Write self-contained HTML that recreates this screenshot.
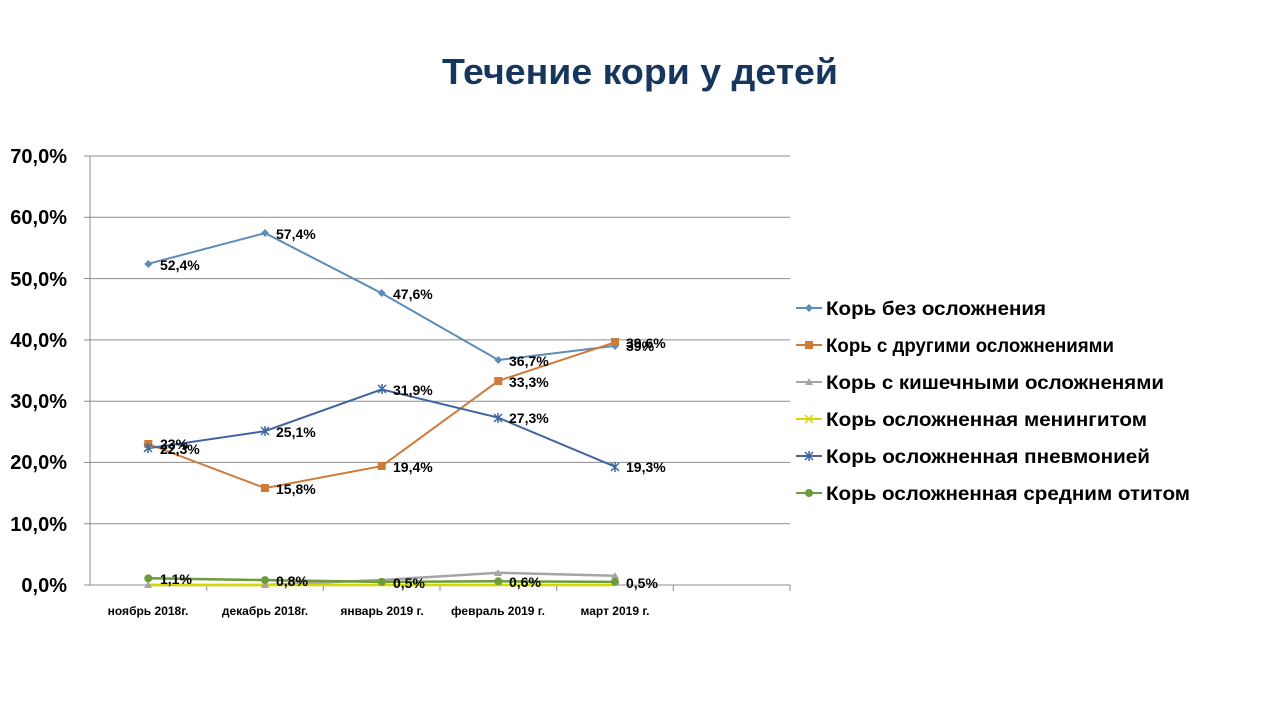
<!DOCTYPE html>
<html><head><meta charset="utf-8"><style>
body{margin:0;width:1280px;height:720px;background:#fff;overflow:hidden}
svg text{font-family:"Liberation Sans",sans-serif}
</style></head><body>
<svg width="1280" height="720" xmlns="http://www.w3.org/2000/svg">
<text x="640" y="84" text-anchor="middle" font-size="36" font-weight="bold" fill="#17365d" textLength="396" lengthAdjust="spacingAndGlyphs">Течение кори у детей</text>
<g stroke="#8c8c8c" stroke-width="1">
<line x1="90" y1="156" x2="790" y2="156"/><line x1="90" y1="217.3" x2="790" y2="217.3"/>
<line x1="90" y1="278.6" x2="790" y2="278.6"/><line x1="90" y1="339.9" x2="790" y2="339.9"/>
<line x1="90" y1="401.2" x2="790" y2="401.2"/><line x1="90" y1="462.4" x2="790" y2="462.4"/>
<line x1="90" y1="523.7" x2="790" y2="523.7"/>
<line x1="90" y1="156" x2="90" y2="585"/>
<line x1="84" y1="585" x2="790" y2="585"/>
<line x1="84" y1="156" x2="90" y2="156"/><line x1="84" y1="217.3" x2="90" y2="217.3"/><line x1="84" y1="278.6" x2="90" y2="278.6"/><line x1="84" y1="339.9" x2="90" y2="339.9"/><line x1="84" y1="401.2" x2="90" y2="401.2"/><line x1="84" y1="462.4" x2="90" y2="462.4"/><line x1="84" y1="523.7" x2="90" y2="523.7"/>
<line x1="206.7" y1="585" x2="206.7" y2="591"/><line x1="323.3" y1="585" x2="323.3" y2="591"/><line x1="440" y1="585" x2="440" y2="591"/><line x1="556.7" y1="585" x2="556.7" y2="591"/><line x1="673.3" y1="585" x2="673.3" y2="591"/><line x1="790" y1="585" x2="790" y2="591"/>
</g>
<g font-size="20" text-anchor="end" fill="#000" font-weight="bold">
<text x="67" y="163">70,0%</text><text x="67" y="224">60,0%</text><text x="67" y="286">50,0%</text><text x="67" y="347">40,0%</text><text x="67" y="408">30,0%</text><text x="67" y="469">20,0%</text><text x="67" y="531">10,0%</text><text x="67" y="592">0,0%</text>
</g>
<g font-size="12" font-weight="bold" text-anchor="middle">
<text x="148" y="615">ноябрь 2018г.</text><text x="265" y="615">декабрь 2018г.</text><text x="382" y="615">январь 2019 г.</text><text x="498" y="615">февраль 2019 г.</text><text x="615" y="615">март 2019 г.</text>
</g>
<polyline fill="none" stroke="#a5a5a5" stroke-width="2.5" points="148.3,585 265,585 381.7,580 498.3,572.7 615,575.8"/>
<polyline fill="none" stroke="#d6d600" stroke-width="2.5" points="148.3,585 265,585 381.7,585 498.3,585 615,585"/>
<polyline fill="none" stroke="#6d9b3a" stroke-width="2.5" points="148.3,578.3 265,580.1 381.7,581.9 498.3,581.3 615,581.9"/>
<polyline fill="none" stroke="#5b8db8" stroke-width="2" points="148.3,263.8 265,233.1 381.7,293.2 498.3,360 615,345.9"/>
<polyline fill="none" stroke="#d07a3a" stroke-width="2" points="148.3,444 265,488.1 381.7,466.1 498.3,380.9 615,342.3"/>
<polyline fill="none" stroke="#3f66a0" stroke-width="2" points="148.3,448.3 265,431.1 381.7,389.4 498.3,417.7 615,466.7"/>
<g fill="#5b8db8"><path d="M148.3,260 l4,4 -4,4 -4,-4z"/><path d="M265,229 l4,4 -4,4 -4,-4z"/><path d="M381.7,289 l4,4 -4,4 -4,-4z"/><path d="M498.3,356 l4,4 -4,4 -4,-4z"/><path d="M615,342 l4,4 -4,4 -4,-4z"/></g>
<g fill="#d07a3a"><rect x="144.3" y="440" width="8" height="8"/><rect x="261" y="484" width="8" height="8"/><rect x="377.7" y="462" width="8" height="8"/><rect x="494.3" y="377" width="8" height="8"/><rect x="611" y="338" width="8" height="8"/></g>
<g stroke="#3f66a0" stroke-width="1.5"><path d="M144,444 l8,8 M152,444 l-8,8 M148,443 v10"/><path d="M261,427 l8,8 M269,427 l-8,8 M265,426 v10"/><path d="M378,385 l8,8 M386,385 l-8,8 M382,384 v10"/><path d="M494,414 l8,8 M502,414 l-8,8 M498,413 v10"/><path d="M611,463 l8,8 M619,463 l-8,8 M615,462 v10"/></g>
<g fill="#a5a5a5"><path d="M148,581 l4,7 h-8z"/><path d="M265,581 l4,7 h-8z"/><path d="M498,569 l4,7 h-8z"/><path d="M615,572 l4,7 h-8z"/></g>
<g fill="#6d9b3a"><circle cx="148.3" cy="578.3" r="4"/><circle cx="265" cy="580.1" r="4"/><circle cx="381.7" cy="581.9" r="4"/><circle cx="498.3" cy="581.3" r="4"/><circle cx="615" cy="581.9" r="4"/></g>
<g font-size="14" font-weight="bold" fill="#000">
<text x="160" y="270">52,4%</text><text x="276" y="239">57,4%</text><text x="393" y="299">47,6%</text><text x="509" y="366">36,7%</text><text x="626" y="351">39%</text>
<text x="160" y="449">23%</text><text x="276" y="494">15,8%</text><text x="393" y="472">19,4%</text><text x="509" y="387">33,3%</text><text x="626" y="348">39,6%</text>
<text x="160" y="454">22,3%</text><text x="276" y="437">25,1%</text><text x="393" y="395">31,9%</text><text x="509" y="423">27,3%</text><text x="626" y="472">19,3%</text>
<text x="160" y="584">1,1%</text><text x="276" y="586">0,8%</text><text x="393" y="588">0,5%</text><text x="509" y="587">0,6%</text><text x="626" y="588">0,5%</text>
</g>
<g font-size="19" fill="#000" font-weight="bold">
<line x1="796" y1="308" x2="822" y2="308" stroke="#5b8db8" stroke-width="2"/><path d="M809,304 l4,4 -4,4 -4,-4z" fill="#5b8db8"/><text x="826" y="315" textLength="220" lengthAdjust="spacingAndGlyphs">Корь без осложнения</text>
<line x1="796" y1="345" x2="822" y2="345" stroke="#d07a3a" stroke-width="2"/><rect x="805" y="341" width="8" height="8" fill="#d07a3a"/><text x="826" y="352" textLength="288" lengthAdjust="spacingAndGlyphs">Корь с другими осложнениями</text>
<line x1="796" y1="382" x2="822" y2="382" stroke="#a5a5a5" stroke-width="2"/><path d="M809,378 l4,7 h-8z" fill="#a5a5a5"/><text x="826" y="389" textLength="338" lengthAdjust="spacingAndGlyphs">Корь с кишечными осложненями</text>
<line x1="796" y1="419" x2="822" y2="419" stroke="#d6d600" stroke-width="2"/><path d="M805,415 l8,8 M813,415 l-8,8" stroke="#d6d600" stroke-width="1.5"/><text x="826" y="426" textLength="321" lengthAdjust="spacingAndGlyphs">Корь осложненная менингитом</text>
<line x1="796" y1="456" x2="822" y2="456" stroke="#3f66a0" stroke-width="2"/><path d="M805,452 l8,8 M813,452 l-8,8 M809,451 v10" stroke="#3f66a0" stroke-width="1.5"/><text x="826" y="463" textLength="324" lengthAdjust="spacingAndGlyphs">Корь осложненная пневмонией</text>
<line x1="796" y1="493" x2="822" y2="493" stroke="#6d9b3a" stroke-width="2"/><circle cx="809" cy="493" r="4" fill="#6d9b3a"/><text x="826" y="500" textLength="364" lengthAdjust="spacingAndGlyphs">Корь осложненная средним отитом</text>
</g>
</svg>
</body></html>
